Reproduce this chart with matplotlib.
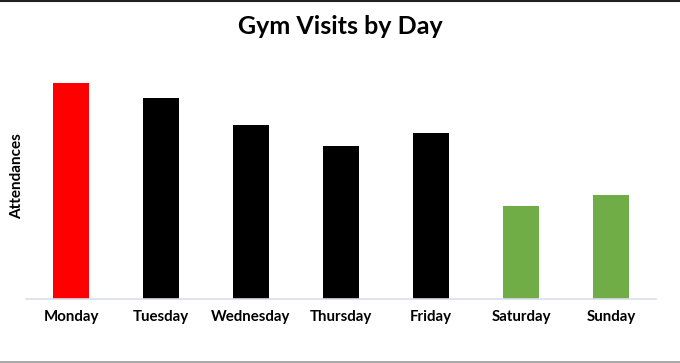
import matplotlib
matplotlib.use("Agg")
import matplotlib.pyplot as plt
from matplotlib.lines import Line2D

days = ["Monday", "Tuesday", "Wednesday", "Thursday", "Friday", "Saturday", "Sunday"]
visits = [216, 201, 174, 153, 166, 93, 104]
colors = ["#FF0000", "#000000", "#000000", "#000000", "#000000", "#70AD47", "#70AD47"]

plt.rcParams['font.family'] = ['Lato', 'DejaVu Sans']

fig = plt.figure(figsize=(6.8, 3.63), dpi=100)
ax = fig.add_axes([26/680, 1-299/363, 630/680, 239/363])
x = list(range(len(days)))
ax.bar(x, visits, width=0.4, color=colors, linewidth=0)
ax.set_xlim(-0.5, 6.5)
ax.set_ylim(0, 239)
ax.set_xticks(x)
ax.set_xticklabels(days, fontsize=10.8, fontweight='bold')
ax.tick_params(axis='x', length=0, pad=8)
ax.set_yticks([])
for s in ['top', 'right', 'left']:
    ax.spines[s].set_visible(False)
ax.spines['bottom'].set_color('#D9DEE8')
ax.spines['bottom'].set_linewidth(1.2)
fig.text(17/680, 1-176/363, "Attendances", rotation=90, ha='center', va='center',
         fontsize=11, fontweight='bold')
fig.text(0.5, 1-27/363, "Gym Visits by Day", ha='center', va='center',
         fontsize=18, fontweight='bold')

fig.add_artist(Line2D([0, 1], [1-0.8/363, 1-0.8/363], color='#222222', linewidth=1.5,
                      transform=fig.transFigure))
fig.add_artist(Line2D([0, 1], [1.5/363, 1.5/363], color='#999999', linewidth=1.2,
                      transform=fig.transFigure))
fig.savefig("out.png", dpi=100)
